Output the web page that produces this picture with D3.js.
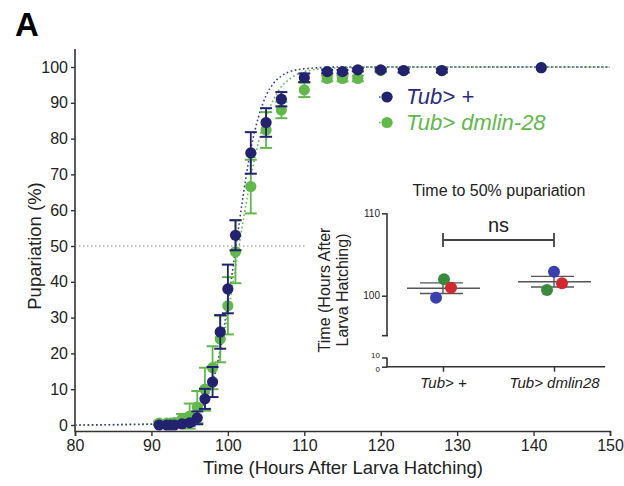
<!DOCTYPE html>
<html><head><meta charset="utf-8">
<script src="https://cdn.jsdelivr.net/npm/d3@7"></script>
<style>body{margin:0;background:#fff;}svg{display:block;font-family:"Liberation Sans",Arial,sans-serif;}</style>
</head><body><svg id="c" width="624" height="486"></svg>
<script>
// ---- data ----
const times = [91, 92, 92.5, 93, 94, 95, 96, 97, 98, 99, 100, 101, 103, 105, 107, 110, 113, 115, 117, 120, 123, 128, 141];
const tubPlus = [0, 0, 0, 0, 0.3, 0.6, 2, 7.3, 12, 26, 38, 53, 76, 84.5, 91, 97, 98.7, 98.7, 99.2, 99.2, 99, 99, 99.8];
const tubPlusErr = [0, 0, 0, 0, 0.3, 0.8, 1.8, 2.8, 4.2, 4.7, 6.8, 4.2, 5.8, 4, 2, 1.2, 0.5, 0.5, 0.4, 0.4, 0.5, 0.5, 0.2];
const tubLin = [0.5, 0.5, 0.5, 0.7, 1.6, 2.5, 5, 10, 16, 24, 33.3, 48.4, 66.6, 82.4, 88, 93.6, 96.8, 96.8, 96.8, 99, 99, 99, 99.8];
const tubLinErr = [0.5, 0.5, 0.5, 0.8, 1.5, 3.5, 4.5, 6, 6, 6.5, 8, 8.8, 7.5, 5, 2.3, 2, 0.8, 0.8, 0.8, 0.5, 0.5, 0.5, 0.2];
// fitted sigmoid curves
const fitPlusX = [80, 92, 94, 96, 97, 98, 99, 100, 101, 102, 103, 104, 105, 106, 107, 108, 110, 115, 150];
const fitPlusY = [0, 0.3, 0.9, 3.5, 6.5, 12, 21, 34, 49, 64, 77, 86, 92, 95.5, 97.5, 98.6, 99.5, 100, 100];
const fitLinX = [80, 92, 94, 96, 97, 98, 99, 100, 101, 102, 103, 104, 105, 106, 107, 108, 110, 113, 120, 150];
const fitLinY = [0, 0.4, 1.2, 4, 7, 12, 20, 31, 44, 57, 69, 79, 86, 91, 94.5, 96.5, 98.7, 99.6, 100, 100];
const xTicks = [80, 90, 100, 110, 120, 130, 140, 150];
const yTicks = [0, 10, 20, 30, 40, 50, 60, 70, 80, 90, 100];
const legendLabels = ["Tub> +", "Tub> dmlin-28"];
// inset: time to 50% pupariation (3 replicates each: blue, green, red)
const insetCats = ["Tub> +", "Tub> dmlin28"];
const insetPlus = [99.76, 102.0, 100.97];
const insetLin = [102.9, 100.7, 101.5];
const insetUpperTicks = [100, 110];
const insetLowerTicks = [0, 10];

// ---- styles / layout ----
const NAVY = "#23226e", GREEN = "#62b84b", AX = "#333";
const repColors = ["#3a3fae", "#3b8a3b", "#d0282e"];
const insetJitter = [[-7, 1, 8], [0, -7, 8]];

const svg = d3.select("#c");
const x = d3.scaleLinear().domain([80, 150]).range([75, 610]);
const y = d3.scaleLinear().domain([0, 100]).range([425, 67]);

svg.append("text").attr("x", 15).attr("y", 36).attr("font-size", 33).attr("font-weight", "bold").text("A");

// axes
const xAxisG = svg.append("g").attr("transform", "translate(0,431)")
  .call(d3.axisBottom(x).tickValues(xTicks).tickSize(5).tickPadding(4));
xAxisG.select(".domain").attr("stroke", AX).attr("stroke-width", 1.6);
xAxisG.selectAll(".tick line").attr("stroke", AX).attr("stroke-width", 1.4);
xAxisG.selectAll(".tick text").attr("font-size", 16).attr("fill", "#222").attr("font-family", "Liberation Sans, Arial, sans-serif");

const yAxisG = svg.append("g").attr("transform", "translate(75,0)")
  .call(d3.axisLeft(y).tickValues(yTicks).tickSize(4).tickPadding(3));
yAxisG.select(".domain").remove();
yAxisG.selectAll(".tick line").attr("stroke", AX).attr("stroke-width", 1.4);
yAxisG.selectAll(".tick text").attr("font-size", 16).attr("fill", "#222").attr("font-family", "Liberation Sans, Arial, sans-serif");
svg.append("line").attr("x1", 75).attr("x2", 75).attr("y1", 49).attr("y2", 431.8).attr("stroke", AX).attr("stroke-width", 1.6);

svg.append("text").attr("x", 343).attr("y", 474).attr("text-anchor", "middle").attr("font-size", 18.5).attr("fill", "#222")
  .text("Time (Hours After Larva Hatching)");
svg.append("text").attr("transform", "translate(41,246) rotate(-90)").attr("text-anchor", "middle").attr("font-size", 18.5).attr("fill", "#222")
  .text("Pupariation (%)");

// 50% reference line
svg.append("line").attr("x1", x(80)).attr("x2", x(110.2)).attr("y1", y(50)).attr("y2", y(50))
  .attr("stroke", "#888").attr("stroke-width", 1.2).attr("stroke-dasharray", "1.5,2.5");

// fitted curves
const line = d3.line().x(d => x(d[0])).y(d => y(d[1])).curve(d3.curveMonotoneX);
svg.append("path").datum(d3.zip(fitLinX, fitLinY)).attr("d", line).attr("fill", "none")
  .attr("stroke", GREEN).attr("stroke-width", 1.6).attr("stroke-dasharray", "1.6,2.6");
svg.append("path").datum(d3.zip(fitPlusX, fitPlusY)).attr("d", line).attr("fill", "none")
  .attr("stroke", "#3b3a92").attr("stroke-width", 1.6).attr("stroke-dasharray", "1.6,2.6");

function drawSeries(vals, errs, color) {
  const data = times.map((t, i) => ({t, v: vals[i], e: errs[i]}));
  const g = svg.append("g");
  const eb = g.selectAll(".eb").data(data.filter(d => d.e > 0.25)).join("g");
  eb.append("line").attr("x1", d => x(d.t)).attr("x2", d => x(d.t)).attr("y1", d => y(d.v - d.e)).attr("y2", d => y(d.v + d.e))
    .attr("stroke", color).attr("stroke-width", 1.8);
  eb.append("line").attr("x1", d => x(d.t) - 6).attr("x2", d => x(d.t) + 6).attr("y1", d => y(d.v + d.e)).attr("y2", d => y(d.v + d.e))
    .attr("stroke", color).attr("stroke-width", 2);
  eb.append("line").attr("x1", d => x(d.t) - 6).attr("x2", d => x(d.t) + 6).attr("y1", d => y(d.v - d.e)).attr("y2", d => y(d.v - d.e))
    .attr("stroke", color).attr("stroke-width", 2);
  g.selectAll("circle").data(data).join("circle").attr("cx", d => x(d.t)).attr("cy", d => y(d.v)).attr("r", 5.6).attr("fill", color);
}
drawSeries(tubLin, tubLinErr, GREEN);
drawSeries(tubPlus, tubPlusErr, NAVY);

// legend
const legColors = [NAVY, GREEN], legLine = ["#3b3a92", GREEN];
legendLabels.forEach((lab, i) => {
  const cy = 97 + i * 25.5;
  svg.append("line").attr("x1", 379).attr("x2", 395).attr("y1", cy).attr("y2", cy).attr("stroke", legLine[i])
    .attr("stroke-width", 1.5).attr("stroke-dasharray", "1.5,2.5");
  svg.append("circle").attr("cx", 387).attr("cy", cy).attr("r", 5.6).attr("fill", legColors[i]);
  svg.append("text").attr("x", 406).attr("y", cy + 7).attr("font-size", 22).attr("font-style", "italic")
    .attr("fill", i === 0 ? "#2a2a7c" : GREEN).text(lab);
});

// ---- inset ----
const yIn = d3.scaleLinear().domain([100, 110]).range([295.7, 213.3]);
const yLow = d3.scaleLinear().domain([0, 10]).range([366.7, 357.5]);
const xIn = d3.scalePoint().domain(insetCats).range([443, 554]);
const axX = 387;

svg.append("text").attr("x", 499).attr("y", 196).attr("text-anchor", "middle").attr("font-size", 16).attr("fill", "#222")
  .text("Time to 50% pupariation");

const upG = svg.append("g").attr("transform", `translate(${axX},0)`)
  .call(d3.axisLeft(yIn).tickValues(insetUpperTicks).tickSize(5).tickPadding(2));
upG.select(".domain").remove();
svg.append("line").attr("x1", axX).attr("x2", axX).attr("y1", yIn(110)).attr("y2", yIn(95.15)).attr("stroke", AX).attr("stroke-width", 1.6);
svg.append("line").attr("x1", axX - 5).attr("x2", axX + 1).attr("y1", yIn(95.15)).attr("y2", yIn(95.15)).attr("stroke", AX).attr("stroke-width", 1.6);
const lowG = svg.append("g").attr("transform", `translate(${axX},0)`)
  .call(d3.axisLeft(yLow).tickValues(insetLowerTicks).tickSize(5).tickPadding(2));
lowG.select(".domain").remove();
svg.append("line").attr("x1", axX).attr("x2", axX).attr("y1", yLow(10)).attr("y2", yLow(0) + 0.8).attr("stroke", AX).attr("stroke-width", 1.6);
upG.selectAll(".tick line").attr("stroke", AX).attr("stroke-width", 1.5);
upG.selectAll(".tick text").attr("font-size", 10).attr("fill", "#222").attr("font-family", "Liberation Sans, Arial, sans-serif");
lowG.selectAll(".tick line").attr("stroke", AX).attr("stroke-width", 1.5);
lowG.selectAll(".tick text").attr("font-size", 8).attr("fill", "#222").attr("font-family", "Liberation Sans, Arial, sans-serif")
  .attr("dy", d => d === 10 ? "0.05em" : "0.62em");
svg.append("line").attr("x1", axX).attr("x2", 605).attr("y1", yLow(0)).attr("y2", yLow(0)).attr("stroke", AX).attr("stroke-width", 1.6);
const xInG = svg.append("g").attr("transform", `translate(0,${yLow(0)})`)
  .call(d3.axisBottom(xIn).tickSize(5).tickPadding(6));
xInG.select(".domain").remove();
xInG.selectAll(".tick line").attr("stroke", AX).attr("stroke-width", 1.5);
xInG.selectAll(".tick text").attr("font-size", 15).attr("font-style", "italic").attr("fill", "#222")
  .attr("font-family", "Liberation Sans, Arial, sans-serif");

svg.append("text").attr("transform", "translate(330,290) rotate(-90)").attr("text-anchor", "middle").attr("font-size", 16).attr("fill", "#222")
  .text("Time (Hours After");
svg.append("text").attr("transform", "translate(348,290) rotate(-90)").attr("text-anchor", "middle").attr("font-size", 16).attr("fill", "#222")
  .text("Larva Hatching)");

// ns bracket
const bY = 240;
svg.append("path").attr("d", `M${xIn(insetCats[0])},${bY - 7}V${bY + 7}M${xIn(insetCats[0])},${bY}H${xIn(insetCats[1])}M${xIn(insetCats[1])},${bY - 7}V${bY + 7}`)
  .attr("stroke", "#444").attr("stroke-width", 1.8).attr("fill", "none");
svg.append("text").attr("x", (xIn(insetCats[0]) + xIn(insetCats[1])) / 2).attr("y", 231.5).attr("text-anchor", "middle")
  .attr("font-size", 20).attr("fill", "#222").text("ns");

[insetPlus, insetLin].forEach((vals, gi) => {
  const cx = xIn(insetCats[gi]);
  const m = d3.mean(vals), sem = d3.deviation(vals) / Math.sqrt(vals.length);
  const g = svg.append("g").attr("stroke", "#555").attr("stroke-width", 1.4);
  g.append("line").attr("x1", cx - 36).attr("x2", cx + 37).attr("y1", yIn(m)).attr("y2", yIn(m));
  g.append("line").attr("x1", cx - 23).attr("x2", cx + 20).attr("y1", yIn(m + sem)).attr("y2", yIn(m + sem));
  g.append("line").attr("x1", cx - 23).attr("x2", cx + 20).attr("y1", yIn(m - sem)).attr("y2", yIn(m - sem));
  g.append("line").attr("x1", cx).attr("x2", cx).attr("y1", yIn(m + sem)).attr("y2", yIn(m - sem));
  vals.forEach((v, i) => {
    svg.append("circle").attr("cx", cx + insetJitter[gi][i]).attr("cy", yIn(v)).attr("r", 6).attr("fill", repColors[i]);
  });
});
</script></body></html>
